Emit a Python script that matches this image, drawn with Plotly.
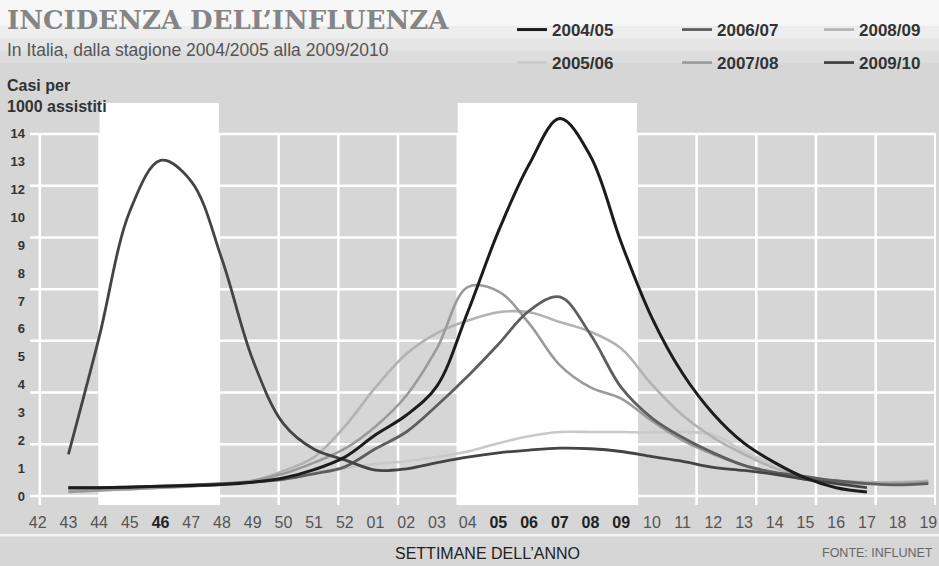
import numpy as np
import plotly.graph_objects as go

# ---------------- data ----------------
WEEKS = ["42", "43", "44", "45", "46", "47", "48", "49", "50", "51", "52",
         "01", "02", "03", "04", "05", "06", "07", "08", "09", "10",
         "11", "12", "13", "14", "15", "16", "17", "18", "19"]
BOLD_WEEKS = ["46", "05", "06", "07", "08", "09"]
Y_LABELS = [0, 1, 2, 3, 4, 5, 6, 7, 8, 9, 10, 12, 13, 14]   # printed scale (no 11)

SEASONS = ["2004/05", "2005/06", "2006/07", "2007/08", "2008/09", "2009/10"]

# weekly incidence (cases per 1000), starting at week 43
S_2004_05 = [0.30, 0.30, 0.32, 0.35, 0.38, 0.42, 0.50, 0.65, 0.95, 1.40,
             2.20, 2.90, 3.95, 6.60, 9.50, 12.9, 14.55, 13.2, 9.10, 6.40,
             4.40, 2.95, 1.90, 1.20, 0.65, 0.30, 0.15]
S_2005_06 = [0.15, 0.20, 0.25, 0.30, 0.35, 0.42, 0.50, 0.65, 0.85, 1.00,
             1.15, 1.25, 1.40, 1.60, 1.90, 2.15, 2.30, 2.30, 2.30, 2.28,
             2.30, 2.20, 1.60, 1.10, 0.70, 0.50, 0.45, 0.45, 0.50]
S_2006_07 = [0.30, 0.30, 0.33, 0.36, 0.40, 0.45, 0.50, 0.60, 0.80, 1.05,
             1.70, 2.30, 3.25, 4.30, 5.45, 6.65, 7.15, 5.80, 3.90, 2.80,
             2.10, 1.55, 1.10, 0.85, 0.70, 0.55, 0.45, 0.40, 0.45]
S_2007_08 = [0.15, 0.20, 0.25, 0.30, 0.35, 0.42, 0.55, 0.80, 1.20, 1.70,
             2.50, 3.60, 5.30, 7.50, 7.35, 6.20, 4.70, 3.90, 3.50, 2.70,
             2.00, 1.50, 1.10, 0.80, 0.60, 0.50, 0.45, 0.45, 0.50]
S_2008_09 = [0.20, 0.25, 0.30, 0.33, 0.38, 0.45, 0.55, 0.90, 1.40, 2.50,
             3.90, 5.10, 5.85, 6.30, 6.60, 6.60, 6.25, 5.90, 5.30, 4.00,
             2.90, 2.10, 1.50, 1.00, 0.70, 0.55, 0.50, 0.50, 0.55]
S_2009_10 = [1.50, 5.70, 10.45, 13.05, 12.30, 8.50, 4.90, 2.60, 1.68, 1.30,
             0.93, 0.98, 1.20, 1.40, 1.55, 1.65, 1.72, 1.70, 1.60, 1.42,
             1.25, 1.03, 0.92, 0.78, 0.60, 0.45, 0.30]

SERIES = {
    "2004/05": S_2004_05, "2005/06": S_2005_06, "2006/07": S_2006_07,
    "2007/08": S_2007_08, "2008/09": S_2008_09, "2009/10": S_2009_10,
}

# ---------------- style ----------------
COLORS = {"2004/05": "#1c1c1c", "2005/06": "#c9c9c9", "2006/07": "#5e5e5e",
          "2007/08": "#9a9a9a", "2008/09": "#b2b2b2", "2009/10": "#444444"}
WIDTHS = {"2004/05": 3.0, "2005/06": 2.6, "2006/07": 2.8,
          "2007/08": 2.6, "2008/09": 2.6, "2009/10": 2.8}
DRAW_ORDER = ["2005/06", "2008/09", "2007/08", "2006/07", "2009/10", "2004/05"]
# legend grid: 3 columns x 2 rows (column left x, row top y, in page pixels)
LEGEND_SLOTS = {"2004/05": ("legend", 512, 12), "2006/07": ("legend2", 677, 12),
                "2008/09": ("legend3", 819, 12), "2005/06": ("legend4", 512, 45),
                "2007/08": ("legend5", 677, 45), "2009/10": ("legend6", 819, 45)}

BG = "#d6d6d6"
FONT = "Liberation Sans, Arial, sans-serif"
W, H = 939, 566

# printed (broken) y scale -> evenly spaced label positions
label_pos = np.arange(len(Y_LABELS), dtype=float)


def to_axis(values):
    v = np.asarray(values, dtype=float)
    pos = np.interp(v, Y_LABELS, label_pos)
    over = v > Y_LABELS[-1]
    step = Y_LABELS[-1] - Y_LABELS[-2]
    pos[over] = label_pos[-1] + (v[over] - Y_LABELS[-1]) / step
    return pos


fig = go.Figure()
for name in DRAW_ORDER:
    vals = SERIES[name]
    fig.add_trace(go.Scatter(
        x=WEEKS[1:1 + len(vals)], y=to_axis(vals), name=name,
        mode="lines", line=dict(color=COLORS[name], width=WIDTHS[name],
                                shape="spline", smoothing=1.0),
        legend=LEGEND_SLOTS[name][0], hoverinfo="skip",
    ))

# ---------------- grid / bands ----------------
GRID_X0, GRID_DX, N_VGRID = 0.07, 1.944, 16
N_HGRID = 8
BANDS = [(1, 3), (7, 10)]   # in vertical-grid steps

shapes = []
# lighter top of the page (title area)
for (y0, y1, c) in [(1.19, 1.30, "#f7f7f7"), (1.16, 1.19, "#eeeeee"),
                    (1.13, 1.16, "#e5e5e5"), (1.10, 1.13, "#dddddd")]:
    shapes.append(dict(type="rect", xref="paper", yref="paper", x0=-0.05, x1=1.05,
                       y0=y0, y1=y1, fillcolor=c, line_width=0, layer="below"))
for a, b in BANDS:
    shapes.append(dict(type="rect", xref="x", yref="paper",
                       x0=GRID_X0 + a * GRID_DX, x1=GRID_X0 + b * GRID_DX,
                       y0=0, y1=1.0, fillcolor="white", line_width=0, layer="below"))
top_idx = len(Y_LABELS) - 1
for k in range(N_VGRID):
    xv = GRID_X0 + k * GRID_DX
    shapes.append(dict(type="line", xref="x", yref="y", x0=xv, x1=xv,
                       y0=-0.35, y1=top_idx, line=dict(color="white", width=2.5),
                       layer="below"))
for k in range(N_HGRID):
    yv = k * top_idx / (N_HGRID - 1)
    shapes.append(dict(type="line", xref="paper", yref="y", x0=0, x1=1,
                       y0=yv, y1=yv, line=dict(color="white", width=2.5),
                       layer="below"))
# white rule under the week labels
shapes.append(dict(type="line", xref="paper", yref="paper", x0=-0.05, x1=1.05,
                   y0=-0.075, y1=-0.075, line=dict(color="#f4f4f4", width=2.5),
                   layer="below"))

ticktext = [f"<b><span style='color:#222'>{w}</span></b>" if w in BOLD_WEEKS else w
            for w in WEEKS]

legends = {}
for name, (key, lx, ly) in LEGEND_SLOTS.items():
    legends[key] = dict(orientation="h", xref="container", yref="container",
                        x=lx / W, y=1 - ly / H, xanchor="left", yanchor="top",
                        bgcolor="rgba(0,0,0,0)",
                        font=dict(size=17, color="#333", family=FONT, weight="bold"),
                        itemclick=False, itemdoubleclick=False)

fig.update_layout(
    width=W, height=H,
    margin=dict(l=30, r=3, t=103, b=61, autoexpand=False),
    paper_bgcolor=BG, plot_bgcolor=BG,
    font=dict(family=FONT, color="#333"),
    shapes=shapes,
    xaxis=dict(type="category", categoryorder="array", categoryarray=WEEKS,
               range=[-0.25, len(WEEKS) - 0.75], tickvals=WEEKS, ticktext=ticktext,
               showgrid=False, zeroline=False, showline=False, ticks="",
               tickfont=dict(size=16, color="#555", family=FONT),
               ticklabelstandoff=6, automargin=False),
    yaxis=dict(range=[-0.32, 14.11], tickvals=list(label_pos),
               ticktext=[str(v) for v in Y_LABELS],
               showgrid=False, zeroline=False, showline=False, ticks="",
               tickfont=dict(size=13, color="#333", family=FONT, weight="bold"),
               ticklabelstandoff=4, automargin=False),
    showlegend=True,
    annotations=[
        dict(text="INCIDENZA DELL’INFLUENZA", xref="paper", yref="paper",
             x=-0.028, y=1.206, xanchor="left", yanchor="middle", showarrow=False,
             font=dict(family="DejaVu Serif, serif", size=26, color="#858585",
                       weight="bold")),
        dict(text="In Italia, dalla stagione 2004/2005 alla 2009/2010",
             xref="paper", yref="paper", x=-0.028, y=1.132, xanchor="left",
             yanchor="middle", showarrow=False,
             font=dict(family=FONT, size=17.5, color="#555")),
        dict(text="<b>Casi per<br>1000 assistiti</b>", xref="paper", yref="paper",
             x=-0.028, y=0.965, xanchor="left", yanchor="bottom", align="left",
             showarrow=False, font=dict(family=FONT, size=16, color="#333")),
        dict(text="SETTIMANE DELL’ANNO", xref="paper", yref="paper",
             x=0.5055, y=-0.12, xanchor="center", yanchor="middle", showarrow=False,
             font=dict(family=FONT, size=16, color="#222")),
        dict(text="FONTE: INFLUNET", xref="paper", yref="paper",
             x=0.9989, y=-0.12, xanchor="right", yanchor="middle", showarrow=False,
             font=dict(family=FONT, size=12.5, color="#666")),
    ],
)
fig.update_layout(**legends)

fig.write_html("out.html", config={"displayModeBar": False},
               post_script="document.body.style.margin='0';"
                           "document.body.style.padding='0';")
